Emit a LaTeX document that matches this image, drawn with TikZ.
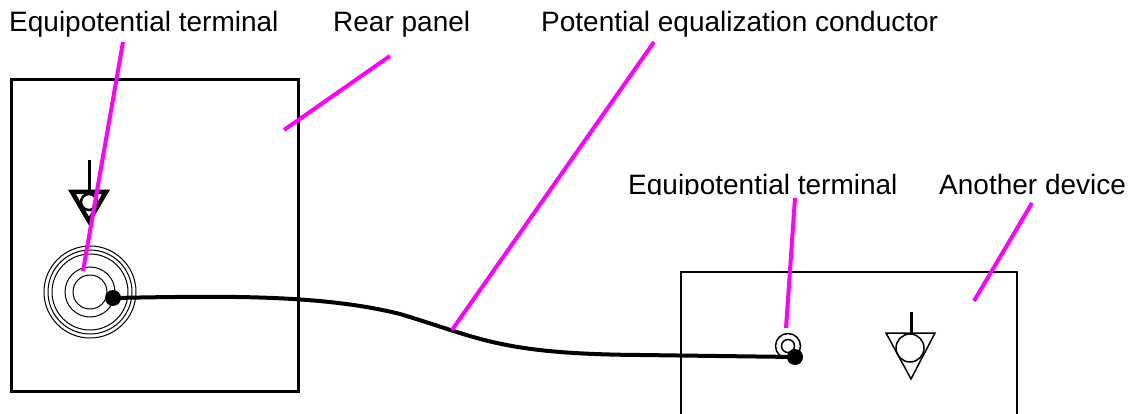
\documentclass[tikz,border=0pt]{standalone}
\usepackage{fontspec}
\setmainfont{Liberation Sans}
\usepackage{xcolor}
\definecolor{leadercol}{RGB}{255,0,255}

\begin{document}
\begin{tikzpicture}[x=1pt,y=-1pt,
    tag/.style={anchor=base west,inner sep=0pt,font=\fontsize{28}{28}\selectfont},
    leader/.style={leadercol,line width=4pt},
    ring/.style={circle,draw,line width=1pt,inner sep=0pt,minimum size=#1},
    stud/.style={circle,fill=black,inner sep=0pt,minimum size=16pt}]
  \useasboundingbox (0,0) rectangle (1129,414);
  \node[tag] (tagleft) at (9,32) {Equipotential terminal};
  \node[tag] (tagrear) at (333,32) {Rear panel};
  \node[tag] (tagcond) at (541,32) {Potential equalization conductor};
  \begin{scope}
    \clip (600,150) rectangle (1129,194.5);
    \node[tag] (tagright) at (628,194) {Equipotential terminal};
    \node[tag] (tagother) at (939,194) {Another device};
  \end{scope}
  % rear panel
  \draw[line width=3pt] (11,80) rectangle (298,391);
  \draw[line width=3pt] (89,160) -- (89,191);
  \draw[line width=4.5pt] (72,192) -- (106,192) -- (89,221) -- cycle;
  \draw[line width=2.5pt,fill=white] (89,202) circle (8);
  \node[ring=92pt] (ringa) at (90,292) {};
  \node[ring=84pt] (ringb) at (90,292) {};
  \node[ring=76pt] (ringc) at (90,292) {};
  \node[ring=50pt] (ringd) at (90,292) {};
  \node[ring=34pt] (ringe) at (90,292) {};
  % other device
  \draw[line width=1.5pt] (681,414) -- (681,272) -- (1017,272) -- (1017,414);
  \draw[line width=3pt] (911,312) -- (911,333);
  \draw[line width=1.5pt] (886,333) -- (935,333) -- (911,379) -- cycle;
  \draw[line width=1.5pt] (910,348) circle (14);
  \node[circle,draw,line width=1.5pt,inner sep=0pt,minimum size=25pt] (termout) at (788,346) {};
  \node[circle,draw,line width=1.5pt,inner sep=0pt,minimum size=13pt] (termin) at (788,346) {};
  % cable
  \node[stud] (studa) at (113,298) {};
  \node[stud] (studb) at (795,357) {};
  \draw[line width=4pt] (studa.center) .. controls (220,296) and (320,294) .. (400,314)
    .. controls (480,338) and (500,354) .. (640,355) -- (studb.center);
  % leaders
  \coordinate (la) at (123,42);
  \coordinate (lb) at (83,271);
  \coordinate (lc) at (390,56);
  \coordinate (ld) at (284,130);
  \coordinate (le) at (654,42);
  \coordinate (lf) at (452,330);
  \coordinate (lg) at (795,198);
  \coordinate (lh) at (786,328);
  \coordinate (li) at (1032,203);
  \coordinate (lj) at (974,301);
  \draw[leader] (la) -- (lb);
  \draw[leader] (lc) -- (ld);
  \draw[leader] (le) -- (lf);
  \draw[leader] (lg) -- (lh);
  \draw[leader] (li) -- (lj);
\end{tikzpicture}
\end{document}
